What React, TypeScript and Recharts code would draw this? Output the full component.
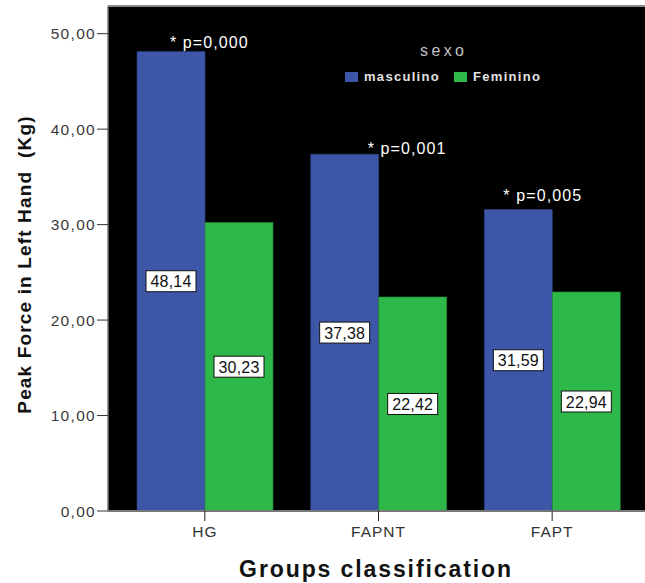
import { BarChart, Bar, XAxis, YAxis, CartesianGrid, LabelList, ReferenceLine } from "recharts";

const groups = ["HG", "FAPNT", "FAPT"];
const masculino = [48.14, 37.38, 31.59];
const feminino = [30.23, 22.42, 22.94];
const pValues = ["* p=0,000", "* p=0,001", "* p=0,005"];
const yTicks = [0, 10, 20, 30, 40, 50];
const legendTitle = "sexo";
const seriesNames = ["masculino", "Feminino"];

const Y_MAX = 52.9;
const BLUE = "#3d56a8";
const GREEN = "#2fb84a";
const FONT = "'Liberation Sans', Arial, sans-serif";

// where each p-value note sits relative to the top-left of its blue bar
const pShift = [
  { dx: 33, dy: -3 },
  { dx: 57, dy: 0 },
  { dx: 19, dy: -8 },
];

const rows = groups.map((g, i) => ({ group: g, masc: masculino[i], fem: feminino[i], p: pValues[i] }));

const fmt = (v: number) => v.toFixed(2).replace(".", ",");

function ValueBox(props: any) {
  const { x, y, width, height, value } = props;
  const cx = x + width / 2;
  const cy = y + height / 2;
  return (
    <g>
      <rect x={cx - 25} y={cy - 10.5} width={50} height={21} fill="#fff" stroke="#111" strokeWidth={1} />
      <text x={cx} y={cy + 6} textAnchor="middle" fontSize={16} fill="#111" fontFamily={FONT} letterSpacing={0.2}>
        {fmt(value)}
      </text>
    </g>
  );
}

function PNote(props: any) {
  const { x, y, index } = props;
  const s = pShift[index] || { dx: 0, dy: 0 };
  return (
    <text x={x + s.dx} y={y + s.dy} fontSize={16} fill="#fff" fontFamily={FONT} letterSpacing={1.1} style={{ whiteSpace: "pre" }}>
      {pValues[index]}
    </text>
  );
}

function LegendBox() {
  const colors = [BLUE, GREEN];
  return (
    <div style={{ position: "absolute", left: 345, top: 42, width: 220, fontFamily: FONT }}>
      <div style={{ color: "#c4c4c4", fontSize: 16, letterSpacing: 3.4, marginBottom: 9, paddingLeft: 75 }}>{legendTitle}</div>
      <div style={{ whiteSpace: "nowrap", display: "flex", alignItems: "center" }}>
        {seriesNames.map((name, i) => (
          <span key={name} style={{ display: "inline-flex", alignItems: "center", marginRight: 14 }}>
            <span style={{ display: "inline-block", width: 13, height: 10, background: colors[i], marginRight: 6 }} />
            <span style={{ color: "#e2e2e2", fontSize: 13, fontWeight: "bold", letterSpacing: 1.3 }}>{name}</span>
          </span>
        ))}
      </div>
    </div>
  );
}

export default function App() {
  return (
    <div style={{ position: "absolute", left: 0, top: 0, width: 645, height: 583, overflow: "hidden", background: "#fff", fontFamily: FONT }}>
      <style>{`html, body { margin: 0; overflow: hidden; }`}</style>
      <BarChart width={645} height={583} data={rows} margin={{ top: 6, right: -15, bottom: 0, left: 0 }} barGap={0} barSize={68}>
        <CartesianGrid fill="#000" horizontal={false} vertical={false} />
        <XAxis
          dataKey="group"
          height={72}
          padding={{ left: 10, right: 21 }}
          tickSize={10}
          tickMargin={5}
          axisLine={{ stroke: "#777", strokeWidth: 2 }}
          tickLine={{ stroke: "#222" }}
          tick={{ fill: "#333", fontSize: 15.5, letterSpacing: 1, fontFamily: FONT }}
          label={{
            content: (p: any) => {
              const vb = p.viewBox;
              return (
                <text x={376} y={vb.y + 66} textAnchor="middle" fontSize={23} fontWeight="bold" fill="#111" fontFamily={FONT} letterSpacing={1.9}>
                  Groups classification
                </text>
              );
            },
          }}
        />
        <YAxis
          width={108}
          domain={[0, Y_MAX]}
          ticks={yTicks}
          interval={0}
          tickFormatter={fmt}
          tickSize={11}
          tickMargin={1}
          axisLine={{ stroke: "#777", strokeWidth: 1.5 }}
          tickLine={{ stroke: "#333" }}
          tick={{ fill: "#3a3a3a", fontSize: 15.5, letterSpacing: 1.3, fontFamily: FONT }}
          label={{
            content: (p: any) => {
              const vb = p.viewBox;
              const cx = 24;
              const cy = vb.y + vb.height / 2 + 6;
              return (
                <text
                  x={cx}
                  y={cy}
                  transform={`rotate(-90, ${cx}, ${cy})`}
                  textAnchor="middle"
                  dominantBaseline="central"
                  fontSize={19}
                  fontWeight="bold"
                  fill="#111"
                  fontFamily={FONT}
                  letterSpacing={1.15}
                  style={{ whiteSpace: "pre" }}
                >
                  {"Peak Force in Left Hand  (Kg)"}
                </text>
              );
            },
          }}
        />
        <ReferenceLine y={Y_MAX} stroke="#888" strokeWidth={2} />
        <Bar dataKey="masc" name="masculino" fill={BLUE} stroke="#2c3f80" strokeWidth={0.6} isAnimationActive={false}>
          <LabelList dataKey="masc" content={<ValueBox />} />
          <LabelList dataKey="p" content={<PNote />} />
        </Bar>
        <Bar dataKey="fem" name="Feminino" fill={GREEN} stroke="#1f8a36" strokeWidth={0.6} isAnimationActive={false}>
          <LabelList dataKey="fem" content={<ValueBox />} />
        </Bar>
      </BarChart>
      <LegendBox />
    </div>
  );
}
